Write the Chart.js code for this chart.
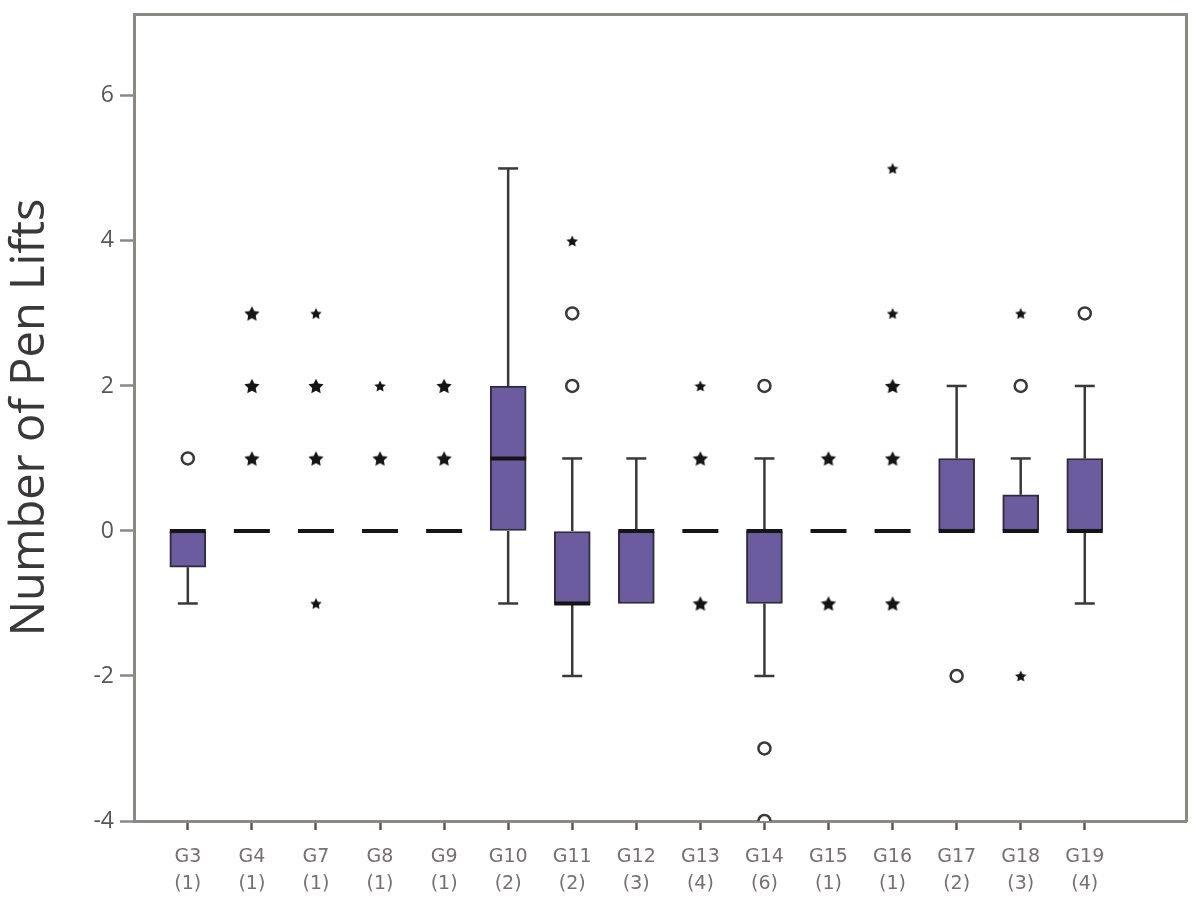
<!DOCTYPE html>
<html>
<head>
<meta charset="utf-8">
<script src="https://cdn.jsdelivr.net/npm/chart.js@4.4.0/dist/chart.umd.min.js"></script>
<style>
  html, body { margin: 0; padding: 0; background: #fff; }
  #wrap { width: 1200px; height: 911px; }
</style>
</head>
<body>
<div id="wrap"><canvas id="boxes"></canvas></div>
<script>
// groups and number of ... in brackets
var groups = ['G3', 'G4', 'G7', 'G8', 'G9', 'G10', 'G11', 'G12', 'G13', 'G14', 'G15', 'G16', 'G17', 'G18', 'G19'];
var counts = ['(1)', '(1)', '(1)', '(1)', '(1)', '(2)', '(2)', '(3)', '(4)', '(6)', '(1)', '(1)', '(2)', '(3)', '(4)'];

// box plot values
var q1         = [-0.5, 0, 0, 0, 0, 0, -1, -1, 0, -1, 0, 0, 0, 0,   0];
var q3         = [ 0,   0, 0, 0, 0, 2,  0,  0, 0,  0, 0, 0, 1, 0.5, 1];
var median     = [ 0,   0, 0, 0, 0, 1, -1,  0, 0,  0, 0, 0, 0, 0,   0];
var whiskerLow = [-1,   0, 0, 0, 0, -1, -2, -1, 0, -2, 0, 0, 0, 0,  -1];
var whiskerHigh= [ 0,   0, 0, 0, 0, 5,  1,  1, 0,  1, 0, 0, 2, 1,   2];

// outliers (o) and extremes (*)
var circles = [[1], [], [], [], [], [], [2, 3], [], [], [2, -3, -4], [], [], [-2], [2], [3]];
var starsBig = [[], [1, 2, 3], [1, 2], [1], [1, 2], [], [], [], [1, -1], [], [1, -1], [1, 2, -1], [], [], []];
var starsSmall = [[], [], [3, -1], [2], [], [], [4], [], [2], [], [], [3, 5], [], [3, -2], []];

var yTicks = [-4, -2, 0, 2, 4, 6];

// star marker
function makeStar(size) {
  var c = document.createElement('canvas');
  c.width = size; c.height = size;
  var g = c.getContext('2d');
  var cx = size / 2, cy = size / 2 + size * 0.05, R = size / 2, r = R * 0.5;
  g.beginPath();
  for (var k = 0; k < 10; k++) {
    var rad = (k % 2 == 0) ? R : r;
    var a = -Math.PI / 2 + k * Math.PI / 5;
    g.lineTo(cx + rad * Math.cos(a), cy + rad * Math.sin(a));
  }
  g.closePath();
  g.fillStyle = '#151515';
  g.fill();
  return c;
}
var starBig = makeStar(16);
var starSmall = makeStar(12);

var boxData = [], whiskers = [], caps = [], medians = [], circ = [], sBig = [], sSmall = [];
for (var i = 0; i < groups.length; i++) {
  if (q3[i] > q1[i]) boxData.push({x: i, y: [q1[i], q3[i]]});
  if (whiskerLow[i] < q1[i]) {
    whiskers.push({x: i, y: whiskerLow[i]}, {x: i, y: q1[i]}, {x: i, y: null});
    caps.push({x: i, y: whiskerLow[i]});
  }
  if (whiskerHigh[i] > q3[i]) {
    whiskers.push({x: i, y: q3[i]}, {x: i, y: whiskerHigh[i]}, {x: i, y: null});
    caps.push({x: i, y: whiskerHigh[i]});
  }
  medians.push({x: i, y: median[i]});
  circles[i].forEach(function(v) { circ.push({x: i, y: v}); });
  starsBig[i].forEach(function(v) { sBig.push({x: i, y: v}); });
  starsSmall[i].forEach(function(v) { sSmall.push({x: i, y: v}); });
}

var frame = '#8d8883';

function noPad(s) {
  s.paddingTop = 0; s.paddingBottom = 0; s.paddingLeft = 0; s.paddingRight = 0;
}

var ctx = document.getElementById('boxes');
new Chart(ctx, {
  type: 'bar',
  data: {
    datasets: [
      {
        type: 'line',
        data: whiskers,
        borderColor: '#3b3838',
        borderWidth: 2.5,
        pointRadius: 0,
        spanGaps: false,
        order: 5
      },
      {
        data: boxData,
        backgroundColor: '#6a5c9f',
        borderColor: '#2f2b3c',
        borderWidth: 2,
        borderSkipped: false,
        barThickness: 36,
        grouped: false,
        order: 4
      },
      {
        type: 'line',
        data: caps,
        showLine: false,
        pointStyle: 'line',
        pointRadius: 10,
        pointBorderWidth: 2.5,
        pointBorderColor: '#3b3838',
        order: 3
      },
      {
        type: 'line',
        data: medians,
        showLine: false,
        pointStyle: 'line',
        pointRadius: 18,
        pointBorderWidth: 4,
        pointBorderColor: '#151515',
        order: 2
      },
      {
        type: 'line',
        data: circ,
        showLine: false,
        pointStyle: 'circle',
        pointRadius: 6,
        pointBorderWidth: 2.5,
        pointBorderColor: '#3a3838',
        pointBackgroundColor: '#ffffff',
        order: 1
      },
      {
        type: 'line',
        data: sBig,
        showLine: false,
        pointStyle: starBig,
        order: 1
      },
      {
        type: 'line',
        data: sSmall,
        showLine: false,
        pointStyle: starSmall,
        order: 1
      }
    ]
  },
  options: {
    responsive: true,
    maintainAspectRatio: false,
    animation: false,
    events: [],
    layout: { padding: 0, autoPadding: false },
    plugins: {
      legend: { display: false },
      tooltip: { enabled: false }
    },
    scales: {
      x: {
        type: 'linear',
        position: 'bottom',
        offset: false,
        min: -0.84,
        max: 15.58,
        afterBuildTicks: function(s) { s.ticks = groups.map(function(g, k) { return {value: k}; }); },
        afterFit: function(s) { s.height = 90; noPad(s); },
        ticks: {
          autoSkip: false,
          maxRotation: 0,
          padding: 13,
          color: '#757170',
          font: { family: 'DejaVu Sans', size: 19, lineHeight: 1.45 },
          callback: function(v) { return [groups[v], counts[v]]; }
        },
        grid: { offset: false, drawOnChartArea: false, tickLength: 9, tickColor: '#5a5757', tickWidth: 2.5 },
        border: { color: frame, width: 3 }
      },
      x2: {
        type: 'linear',
        position: 'top',
        min: 0, max: 1,
        afterFit: function(s) { s.height = 14; noPad(s); },
        ticks: { display: false },
        grid: { display: false, drawTicks: false },
        border: { color: frame, width: 3 }
      },
      y: {
        min: -4,
        max: 7.13,
        afterBuildTicks: function(s) { s.ticks = yTicks.map(function(v) { return {value: v}; }); },
        afterFit: function(s) { s.width = 134; noPad(s); },
        ticks: {
          padding: 6,
          color: '#5a5655',
          font: { family: 'Open Sans', size: 23 }
        },
        grid: { drawOnChartArea: false, tickLength: 14, tickColor: frame, tickWidth: 2.5 },
        border: { color: frame, width: 3 },
        title: {
          display: true,
          text: 'Number of Pen Lifts',
          color: '#3a3838',
          font: { family: 'Open Sans', size: 47 },
          padding: { top: 2, bottom: 0 }
        }
      },
      y2: {
        position: 'right',
        min: 0, max: 1,
        afterFit: function(s) { s.width = 14; noPad(s); },
        ticks: { display: false },
        grid: { display: false, drawTicks: false },
        border: { color: frame, width: 3 }
      }
    }
  }
});
</script>
</body>
</html>
